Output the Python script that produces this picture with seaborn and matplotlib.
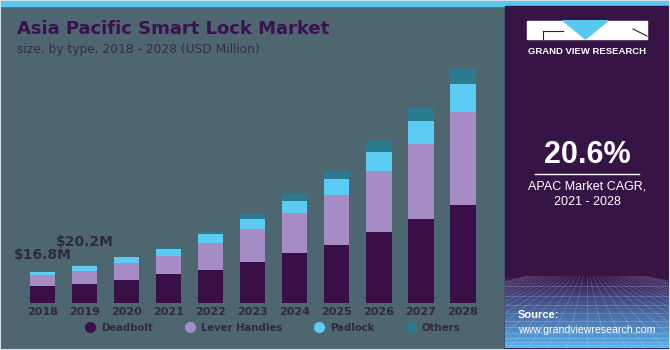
import numpy as np
import pandas as pd
import seaborn as sns
import matplotlib.pyplot as plt
from matplotlib.patches import Rectangle, Polygon
from matplotlib.lines import Line2D

# Data (USD Million)
years = ["2018", "2019", "2020", "2021", "2022", "2023", "2024", "2025", "2026", "2027", "2028"]
deadbolt = [9.2, 10.2, 12.5, 15.5, 17.9, 22.0, 26.5, 30.9, 37.9, 44.5, 52.1]
lever_handles = [5.6, 6.8, 8.7, 9.5, 14.3, 17.2, 21.2, 26.5, 32.3, 39.8, 49.4]
padlock = [1.6, 2.7, 3.1, 3.9, 4.6, 5.3, 6.5, 8.5, 9.9, 12.3, 14.7]
others = [0.4, 0.5, 0.4, 0.5, 0.9, 2.7, 3.7, 4.4, 5.8, 6.7, 8.0]
labels = ["Deadbolt", "Lever Handles", "Padlock", "Others"]
colors = ["#3a0f47", "#a68cc5", "#5ccbf3", "#2b7a90"]
callouts = {"2018": "$16.8M", "2019": "$20.2M"}

bg = "#4e6670"
panel = "#371446"
txt_dark = "#2e2b3b"

df = pd.DataFrame({"year": years, "Deadbolt": deadbolt, "Lever Handles": lever_handles,
                   "Padlock": padlock, "Others": others})
cum = df[labels].cumsum(axis=1)

fig = plt.figure(figsize=(6.7, 3.5), dpi=100, facecolor=bg)

ax = fig.add_axes([21.5 / 670, 46.7 / 350, 462.5 / 670, 243.3 / 350])
ax.set_facecolor("none")

# stacked bars: draw cumulative totals from the top layer down
for lab, col in zip(labels[::-1], colors[::-1]):
    sns.barplot(x=df["year"], y=cum[lab], color=col, width=0.6, saturation=1, ax=ax)

ax.set_ylim(0, 129)
ax.set_xlim(-0.5, len(years) - 0.5)
ax.set_xlabel("")
ax.set_ylabel("")
ax.set_yticks([])
for s in ax.spines.values():
    s.set_visible(False)
ax.tick_params(axis="x", length=0, pad=3, labelsize=8, labelcolor=txt_dark)
for t in ax.get_xticklabels():
    t.set_fontweight("bold")

totals = cum["Others"].tolist()
offsets = {"2018": 12, "2019": 17}
for i, y in enumerate(years):
    if y in callouts:
        ax.annotate(callouts[y], xy=(i, totals[i]), xytext=(0, offsets[y]),
                    textcoords="offset points", ha="center", va="center",
                    fontsize=10, fontweight="bold", color=txt_dark)

handles = [Line2D([], [], marker="o", linestyle="none", markersize=7,
                  markerfacecolor=c, markeredgecolor=c) for c in colors]
fig.legend(handles, labels, loc="center left", bbox_to_anchor=(80 / 670, 1 - 328 / 350),
           ncol=4, frameon=False, borderpad=0, handlelength=1.0, handletextpad=0.6,
           columnspacing=3.1, prop={"size": 7.3, "weight": "bold"}, labelcolor=txt_dark)

# title
fig.text(17 / 670, 1 - 29 / 350, "Asia Pacific Smart Lock Market", fontsize=13,
         fontweight="bold", color="#3b1150", va="center", ha="left")
fig.text(17 / 670, 1 - 49 / 350, "size, by type, 2018 - 2028 (USD Million)", fontsize=8.8,
         color="#3a2a4a", va="center", ha="left")

# top stripe
fig.patches.append(Rectangle((0, 1 - 5.7 / 350), 1, 5.7 / 350, transform=fig.transFigure,
                             color="#5ac8ee", zorder=0))
# right panel
px0, px1 = 505 / 670, 668 / 670
fig.patches.append(Rectangle((px0, 0), px1 - px0, 1 - 5.7 / 350, transform=fig.transFigure,
                             color=panel, zorder=0))

# panel bottom gradient with grid
gax = fig.add_axes([px0, 2 / 350, px1 - px0, 72 / 350])
gax.set_zorder(0.5)
top_rgb = np.array([55, 20, 72]) / 255
bot_rgb = np.array([90, 175, 235]) / 255
tt = np.linspace(0, 1, 100)[:, None] ** 0.9
grad = top_rgb + (bot_rgb - top_rgb) * tt
grad = np.repeat(grad[:, None, :], 2, axis=1).reshape(100, 2, 3)
gax.imshow(grad, aspect="auto", extent=(0, 1, 0, 1), origin="upper")
for k in range(1, 12):
    yy = (k / 12) ** 1.8
    gax.plot([0, 1], [yy, yy], color="white", lw=0.4, alpha=0.3)
for k in range(-12, 25):
    gax.plot([0.5 + (k - 6) * 0.02, 0.5 + (k - 6) * 0.12], [1, 0], color="white", lw=0.4, alpha=0.25)
gax.set_xlim(0, 1)
gax.set_ylim(0, 1)
gax.axis("off")

# logo
lx0, lx1, ly0, ly1 = 527 / 670, 647 / 670, 1 - 39 / 350, 1 - 20.7 / 350
fig.patches.append(Rectangle((lx0, ly0), lx1 - lx0, ly1 - ly0, transform=fig.transFigure,
                             color="white", zorder=1))
fig.patches.append(Polygon([(563 / 670, ly1), (608 / 670, ly1), (585.5 / 670, ly0)],
                           closed=True, transform=fig.transFigure, color="#5ac8ee", zorder=2))
fig.lines.append(Line2D([543 / 670, 563 / 670], [1 - 31 / 350, 1 - 31 / 350],
                        transform=fig.transFigure, color=panel, lw=0.8, zorder=3))
fig.lines.append(Line2D([543 / 670, 543 / 670], [1 - 31 / 350, ly0],
                        transform=fig.transFigure, color=panel, lw=0.8, zorder=3))
fig.lines.append(Line2D([633 / 670, 647 / 670], [1 - 29 / 350, 1 - 36 / 350],
                        transform=fig.transFigure, color=panel, lw=0.8, zorder=3))
fig.text(587 / 670, 1 - 51 / 350, "GRAND VIEW RESEARCH", fontsize=6.8, fontweight="bold",
         color="white", ha="center", va="center", family="Liberation Sans")

fig.text(587 / 670, 1 - 155 / 350, "20.6%", fontsize=22, fontweight="bold", color="white",
         ha="center", va="center", family="Liberation Sans")
fig.lines.append(Line2D([535 / 670, 639 / 670], [1 - 173.5 / 350, 1 - 173.5 / 350],
                        transform=fig.transFigure, color="white", lw=1))
fig.text(587 / 670, 1 - 186 / 350, "APAC Market CAGR,", fontsize=9, color="white",
         ha="center", va="center", family="Liberation Sans")
fig.text(587 / 670, 1 - 202 / 350, "2021 - 2028", fontsize=9, color="white",
         ha="center", va="center", family="Liberation Sans")
fig.text(518 / 670, 1 - 315 / 350, "Source:", fontsize=8, fontweight="bold", color="white",
         ha="left", va="center", family="Liberation Sans", zorder=4)
fig.text(518 / 670, 1 - 330 / 350, "www.grandviewresearch.com", fontsize=7.6, color="white",
         ha="left", va="center", family="Liberation Sans", zorder=4)

# light frame
fig.patches.append(Rectangle((0, 0), 1, 1, transform=fig.transFigure, fill=False,
                             edgecolor="#cfe2e8", lw=1.5, zorder=5))

fig.savefig("out.png", dpi=100, facecolor=bg)
